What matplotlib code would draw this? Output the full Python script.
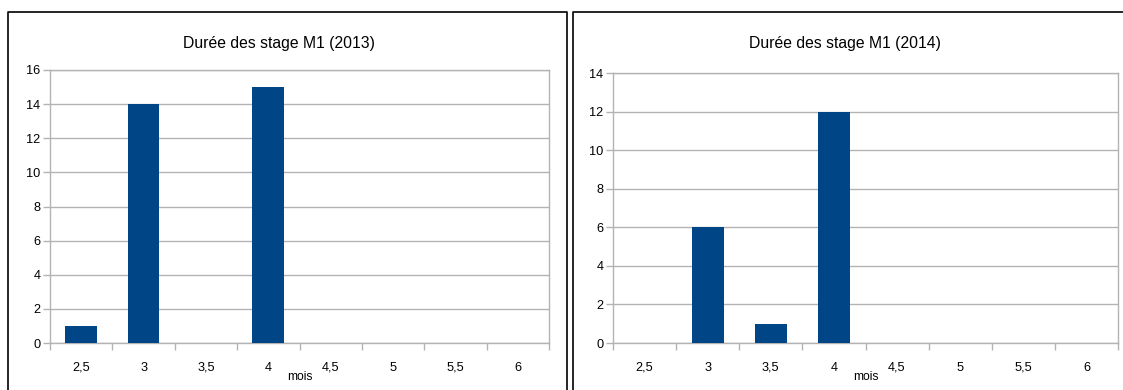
import matplotlib
matplotlib.use("Agg")
import matplotlib.pyplot as plt
from matplotlib.lines import Line2D
import numpy as np

plt.rcParams['font.family'] = ['Liberation Sans', 'DejaVu Sans']

categories = ["2,5", "3", "3,5", "4", "4,5", "5", "5,5", "6"]
counts_2013 = [1, 14, 0, 15, 0, 0, 0, 0]
counts_2014 = [0, 6, 1, 12, 0, 0, 0, 0]
titles = ["Durée des stage M1 (2013)", "Durée des stage M1 (2014)"]
ymax = [16, 14]
xlabel = "mois"

W, H = 1123, 390
fig = plt.figure(figsize=(W / 100, H / 100), dpi=100)

BAR = "#004586"
GRID = "#b3b3b3"


def px_axes(l, t, r, b):
    return fig.add_axes([l / W, (H - b) / H, (r - l) / W, (b - t) / H])


def draw(ax, values, title, top, title_x, label_x):
    x = np.arange(len(categories))
    ax.bar(x, values, width=0.51, color=BAR, zorder=3)
    ax.set_xlim(-0.5, len(categories) - 0.5)
    ax.set_ylim(0, top)
    ax.set_yticks(np.arange(0, top + 1, 2))
    ax.yaxis.grid(True, color=GRID, linewidth=1)
    ax.set_axisbelow(True)
    ax.set_xticks(x)
    ax.set_xticklabels(categories)
    ax.set_xticks(np.arange(-0.5, len(categories)), minor=True)
    ax.tick_params(axis="x", which="major", length=0, pad=13.5, labelsize=9.2)
    ax.tick_params(axis="x", which="minor", length=5, width=1, color=GRID, direction="out")
    ax.tick_params(axis="y", length=5, width=1, color=GRID, labelsize=9.2, pad=2)
    for s in ax.spines.values():
        s.set_color(GRID)
        s.set_linewidth(1)
    fig.text(label_x / W, (H - 377) / H, xlabel, ha="center", va="center", fontsize=8.7)
    fig.text(title_x / W, (H - 48) / H, title, ha="center", va="baseline", fontsize=11.3)


ax1 = px_axes(50, 70, 549, 343)
draw(ax1, counts_2013, titles[0], ymax[0], 278.5, 299.5)
ax2 = px_axes(613, 73, 1118, 343)
draw(ax2, counts_2014, titles[1], ymax[1], 845, 865.5)


# panel frames
def frame(xs, ys):
    fig.add_artist(Line2D([v / W for v in xs], [(H - v) / H for v in ys],
                          color="black", linewidth=1.2, transform=fig.transFigure))


frame([7.5, 7.5, 566.5, 566.5], [392, 12, 12, 392])
frame([572.5, 572.5, 1125], [392, 12, 12])

fig.savefig("out.png", dpi=100, facecolor="white")
